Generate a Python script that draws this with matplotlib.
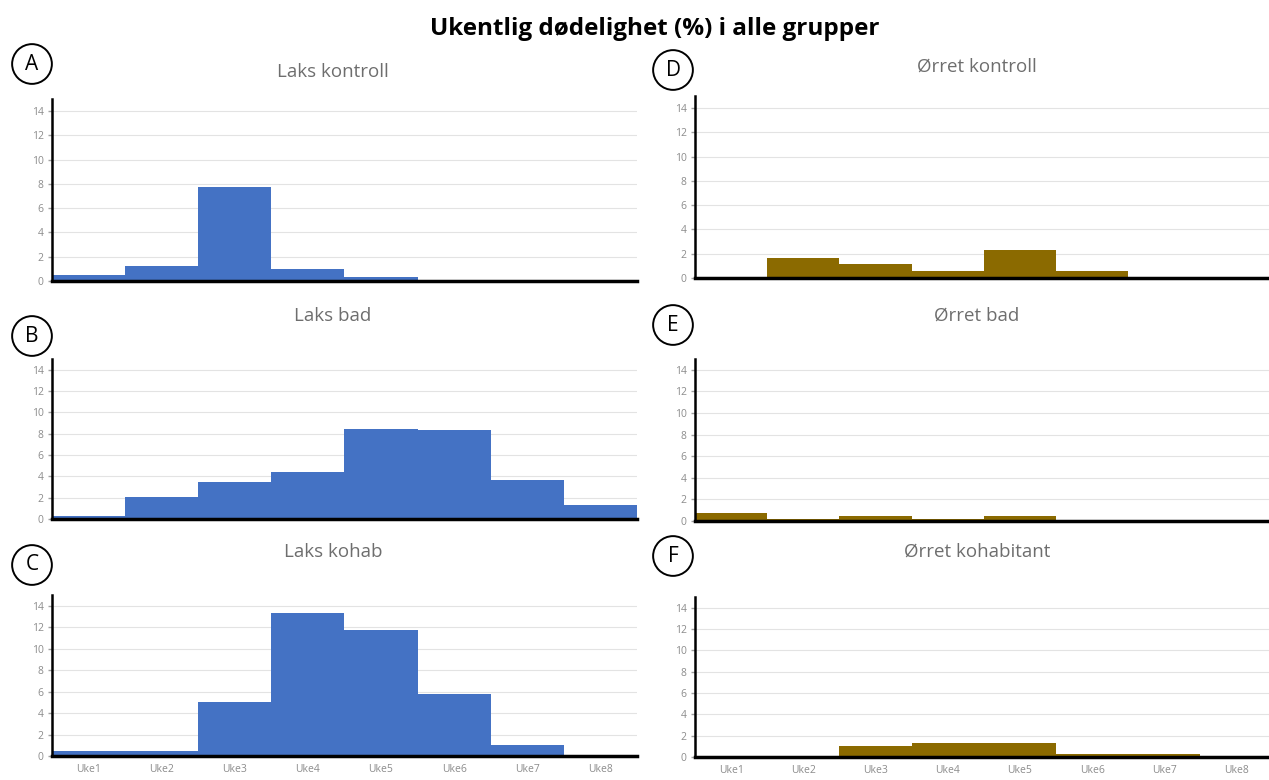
import matplotlib.pyplot as plt

weeks = ['Uke1', 'Uke2', 'Uke3', 'Uke4', 'Uke5', 'Uke6', 'Uke7', 'Uke8']

laks_kontroll = [0.5, 1.25, 7.75, 0.95, 0.3, 0, 0, 0]
laks_bad = [0.25, 2.1, 3.5, 4.4, 8.45, 8.3, 3.7, 1.3]
laks_kohab = [0.45, 0.45, 5.0, 13.35, 11.7, 5.8, 1.0, 0]
orret_kontroll = [0, 1.65, 1.15, 0.6, 2.3, 0.6, 0, 0]
orret_bad = [0.7, 0.15, 0.5, 0.15, 0.5, 0, 0, 0]
orret_kohab = [0, 0, 1.0, 1.3, 1.3, 0.25, 0.25, 0]

titles = ['Laks kontroll', 'Laks bad', 'Laks kohab',
          'Ørret kontroll', 'Ørret bad', 'Ørret kohabitant']
letters = ['A', 'B', 'C', 'D', 'E', 'F']
series = [laks_kontroll, laks_bad, laks_kohab,
          orret_kontroll, orret_bad, orret_kohab]

plt.rcParams['font.family'] = ['Open Sans', 'DejaVu Sans']

W, H = 1269, 780
fig = plt.figure(figsize=(W / 100, H / 100), dpi=100)

# pixel boxes: left, right, top(y=15), bottom(y=0)
boxes = [(52, 637, 99, 281), (52, 637, 359, 519), (52, 637, 595, 756),
         (695, 1269, 96, 278), (695, 1269, 359, 521), (695, 1269, 597, 757)]
title_pos = [(333, 72), (333, 316), (333, 552),
             (977, 67), (977, 316), (977, 552)]
letter_pos = [(32, 64), (32, 336), (32, 565),
              (673, 70), (673, 325), (673, 556)]
blue = '#4472C4'
gold = '#8B6A00'

for i in range(6):
    l, r, t, b = boxes[i]
    ax = fig.add_axes([l / W, 1 - b / H, (r - l) / W, (b - t) / H])
    color = blue if i < 3 else gold
    ax.bar(range(len(weeks)), series[i], width=1.0, color=color, zorder=2)
    if i < 3:
        ax.set_xlim(-0.5, 7.5)
    else:
        ax.set_xlim(-0.5, 7.45)
    ax.set_ylim(0, 15)
    ax.set_yticks(range(0, 15, 2))
    ax.grid(axis='y', color='#e3e3e3', linewidth=0.8, zorder=0)
    for s in ['top', 'right']:
        ax.spines[s].set_visible(False)
    ax.spines['left'].set_linewidth(1.8)
    ax.spines['bottom'].set_linewidth(2.5)
    ax.spines['bottom'].set_zorder(3)
    ax.tick_params(axis='y', length=3, width=1, color='#a0a0a0',
                   labelsize=7.5, labelcolor='#8c8c8c', pad=3)
    ax.set_xticks(range(len(weeks)))
    if i in (2, 5):
        ax.set_xticklabels(weeks)
        ax.tick_params(axis='x', length=0, labelsize=7.5,
                       labelcolor='#8c8c8c', pad=6)
    else:
        ax.set_xticklabels([])
        ax.tick_params(axis='x', length=0)

    tx, ty = title_pos[i]
    fig.text(tx / W, 1 - ty / H, titles[i], ha='center', va='center',
             fontsize=13.5, color='#6e6e6e')
    lx, ly = letter_pos[i]
    fig.text(lx / W, 1 - ly / H, letters[i], ha='center', va='center',
             fontsize=15, color='black',
             bbox=dict(boxstyle='circle,pad=0.45', fc='white', ec='black', lw=1.4))

fig.text(655 / W, 1 - 29 / H, 'Ukentlig dødelighet (%) i alle grupper',
         ha='center', va='center', fontsize=17.5, fontweight='bold')

fig.savefig('out.png', dpi=100)
